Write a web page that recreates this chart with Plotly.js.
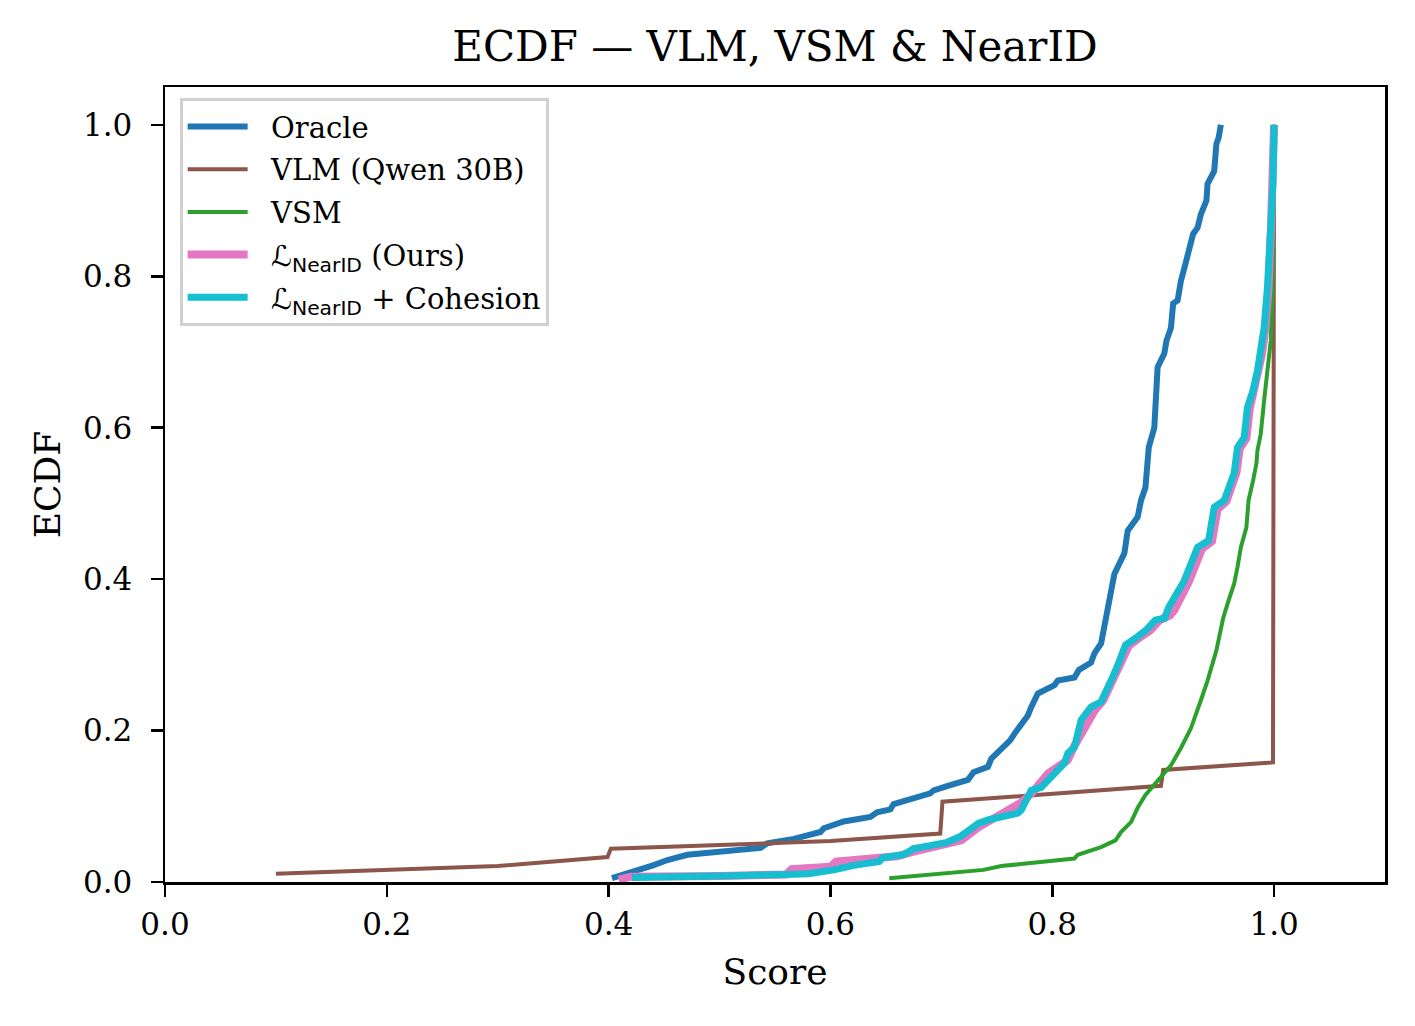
<!DOCTYPE html>
<html>
<head>
<meta charset="utf-8">
<script src="https://cdn.plot.ly/plotly-3.0.1.min.js"></script>
<style>
  html, body { margin: 0; padding: 0; background: #fff; }
  #ecdfChart { width: 1415px; height: 1026px; }
</style>
</head>
<body>
<div id="ecdfChart"></div>
<script>
// values (score, ecdf)
const oracleScore = [0.403, 0.435, 0.440, 0.453, 0.471, 0.537, 0.543, 0.567, 0.591, 0.594, 0.612, 0.636, 0.642, 0.654, 0.657, 0.690, 0.693, 0.708, 0.724, 0.729, 0.742, 0.745, 0.754, 0.762, 0.766, 0.772, 0.778, 0.781, 0.787, 0.802, 0.805, 0.820, 0.824, 0.835, 0.838, 0.844, 0.848, 0.851, 0.856, 0.865, 0.868, 0.877, 0.880, 0.884, 0.887, 0.892, 0.894, 0.895, 0.901, 0.903, 0.907, 0.909, 0.913, 0.916, 0.920, 0.923, 0.927, 0.931, 0.934, 0.939, 0.940, 0.946, 0.948, 0.950, 0.952];
const oracleEcdf  = [0.005, 0.018, 0.022, 0.029, 0.036, 0.045, 0.051, 0.057, 0.066, 0.071, 0.080, 0.086, 0.092, 0.096, 0.103, 0.117, 0.121, 0.128, 0.135, 0.145, 0.152, 0.163, 0.176, 0.187, 0.196, 0.207, 0.220, 0.231, 0.249, 0.260, 0.266, 0.270, 0.280, 0.290, 0.302, 0.315, 0.348, 0.372, 0.407, 0.434, 0.464, 0.482, 0.504, 0.521, 0.574, 0.600, 0.658, 0.680, 0.698, 0.715, 0.732, 0.764, 0.768, 0.794, 0.816, 0.834, 0.856, 0.864, 0.882, 0.900, 0.922, 0.939, 0.975, 0.983, 1.000];

const vlmScore = [0.100, 0.300, 0.399, 0.402, 0.600, 0.699, 0.701, 0.898, 0.900, 0.999, 1.000];
const vlmEcdf  = [0.011, 0.021, 0.033, 0.044, 0.054, 0.064, 0.106, 0.127, 0.148, 0.158, 1.000];

const vsmScore = [0.653, 0.738, 0.754, 0.820, 0.823, 0.844, 0.857, 0.862, 0.871, 0.877, 0.884, 0.892, 0.898, 0.907, 0.916, 0.925, 0.934, 0.940, 0.948, 0.954, 0.959, 0.964, 0.967, 0.970, 0.975, 0.977, 0.981, 0.984, 0.985, 0.988, 0.991, 0.994, 0.997, 0.999, 1.000];
const vsmEcdf  = [0.005, 0.016, 0.021, 0.031, 0.036, 0.046, 0.055, 0.066, 0.079, 0.098, 0.115, 0.128, 0.139, 0.154, 0.177, 0.203, 0.240, 0.266, 0.306, 0.348, 0.372, 0.394, 0.416, 0.442, 0.468, 0.504, 0.530, 0.552, 0.570, 0.592, 0.636, 0.680, 0.715, 0.800, 1.000];

const nearidScore = [0.409, 0.420, 0.500, 0.560, 0.565, 0.600, 0.605, 0.660, 0.675, 0.690, 0.700, 0.718, 0.733, 0.742, 0.760, 0.772, 0.782, 0.796, 0.805, 0.814, 0.820, 0.829, 0.838, 0.846, 0.851, 0.856, 0.862, 0.869, 0.878, 0.888, 0.897, 0.906, 0.910, 0.917, 0.923, 0.929, 0.935, 0.944, 0.949, 0.957, 0.961, 0.966, 0.969, 0.975, 0.978, 0.982, 0.986, 0.989, 0.992, 0.995, 0.997, 0.999, 1.000];
const nearidEcdf  = [0.003, 0.007, 0.008, 0.010, 0.017, 0.020, 0.027, 0.034, 0.040, 0.045, 0.048, 0.055, 0.072, 0.080, 0.095, 0.105, 0.118, 0.143, 0.152, 0.161, 0.180, 0.205, 0.226, 0.240, 0.255, 0.270, 0.290, 0.312, 0.322, 0.332, 0.346, 0.352, 0.359, 0.378, 0.396, 0.418, 0.440, 0.450, 0.492, 0.503, 0.520, 0.540, 0.572, 0.586, 0.625, 0.648, 0.674, 0.697, 0.730, 0.784, 0.855, 0.922, 1.000];

const cohesionScore = [0.421, 0.440, 0.500, 0.560, 0.580, 0.603, 0.621, 0.644, 0.647, 0.666, 0.675, 0.686, 0.704, 0.717, 0.733, 0.742, 0.769, 0.772, 0.781, 0.790, 0.801, 0.811, 0.814, 0.820, 0.826, 0.835, 0.844, 0.848, 0.853, 0.859, 0.866, 0.875, 0.884, 0.893, 0.901, 0.905, 0.913, 0.919, 0.925, 0.931, 0.941, 0.946, 0.955, 0.959, 0.964, 0.967, 0.973, 0.976, 0.981, 0.985, 0.988, 0.991, 0.994, 0.997, 0.999, 1.000];
const cohesionEcdf  = [0.006, 0.007, 0.008, 0.010, 0.011, 0.016, 0.022, 0.027, 0.032, 0.036, 0.044, 0.047, 0.052, 0.060, 0.077, 0.082, 0.091, 0.095, 0.121, 0.125, 0.143, 0.157, 0.170, 0.178, 0.214, 0.231, 0.238, 0.253, 0.266, 0.286, 0.313, 0.322, 0.332, 0.346, 0.348, 0.363, 0.381, 0.398, 0.420, 0.442, 0.451, 0.495, 0.504, 0.521, 0.540, 0.574, 0.587, 0.627, 0.649, 0.675, 0.698, 0.732, 0.785, 0.856, 0.922, 1.000];

// legend labels; the loss symbol is drawn in the sans face like mathtext does
const lossSym = '<span style="font-family:\'DejaVu Sans\'; font-style:italic">ℒ</span>' +
                '<sub><span style="font-family:\'DejaVu Sans\'">NearID</span></sub>';
const seriesNames = [
  'Oracle',
  'VLM (Qwen 30B)',
  'VSM',
  lossSym + ' (Ours)',
  lossSym + ' + Cohesion'
];
const xTicks = [0.0, 0.2, 0.4, 0.6, 0.8, 1.0];
const yTicks = [0.0, 0.2, 0.4, 0.6, 0.8, 1.0];

const serif = 'DejaVu Serif, serif';

function line(x, y, name, color, width, group) {
  return { x: x, y: y, name: '\u00a0\u00a0' + name, legendgroup: group,
           type: 'scatter', mode: 'lines', line: { color: color, width: width } };
}

var data = [
  line(oracleScore, oracleEcdf, seriesNames[0], '#1f77b4', 6, 'g1'),
  line(vlmScore, vlmEcdf, seriesNames[1], '#8c564b', 4, 'g2'),
  line(vsmScore, vsmEcdf, seriesNames[2], '#2ca02c', 4, 'g3'),
  line(nearidScore, nearidEcdf, seriesNames[3], '#e377c2', 8, 'g4'),
  line(cohesionScore, cohesionEcdf, seriesNames[4], '#17becf', 7, 'g5')
];

var axisStyle = {
  showline: true, mirror: true, linecolor: '#000', linewidth: 2.5,
  ticks: 'outside', ticklen: 12, tickwidth: 2.5, tickcolor: '#000',
  showgrid: false, zeroline: false,
  tickfont: { family: serif, size: 31, color: '#000' }
};

var layout = {
  width: 1415, height: 1026,
  margin: { l: 165, r: 30, t: 87, b: 144 },
  paper_bgcolor: '#fff', plot_bgcolor: '#fff',
  font: { family: serif, color: '#000' },
  title: { text: 'ECDF — VLM, VSM & NearID', font: { family: serif, size: 42, color: '#000' },
           x: 0.5, xref: 'paper', y: 0.955, yanchor: 'middle' },
  xaxis: Object.assign({}, axisStyle, {
    range: [0, 1.1], tickvals: xTicks, ticktext: xTicks.map(v => v.toFixed(1)),
    ticklabelstandoff: 1,
    title: { text: 'Score', font: { family: serif, size: 36 }, standoff: 18 }
  }),
  yaxis: Object.assign({}, axisStyle, {
    range: [0, 1.05], tickvals: yTicks, ticktext: yTicks.map(v => v.toFixed(1)),
    ticklabelstandoff: 12,
    title: { text: 'ECDF', font: { family: serif, size: 36 }, standoff: 12 }
  }),
  showlegend: true,
  legend: {
    x: 0.012, y: 0.986, xanchor: 'left', yanchor: 'top',
    bgcolor: 'rgba(255,255,255,0.8)', bordercolor: '#d0d0d0', borderwidth: 3,
    font: { family: serif, size: 29, color: '#000' },
    itemwidth: 60, tracegroupgap: 2
  }
};

Plotly.newPlot('ecdfChart', data, layout, { displayModeBar: false, staticPlot: true });
</script>
</body>
</html>
